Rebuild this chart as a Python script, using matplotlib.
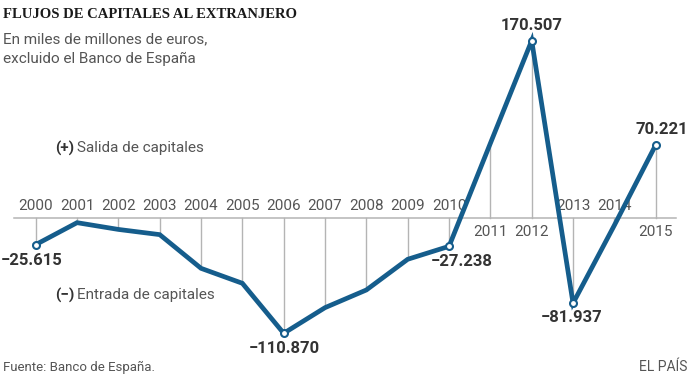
import matplotlib.pyplot as plt

years = list(range(2000, 2016))
values = [-25.615, -4.5, -11.0, -16.0, -48.4, -62.8, -110.870, -86.2,
          -69.2, -39.7, -27.238, 71.8, 170.507, -81.937, -7.0, 70.221]
labeled_years = [2000, 2006, 2010, 2012, 2013, 2015]
value_labels = ['\u221225.615', '\u2212110.870', '\u221227.238',
                '170.507', '\u221281.937', '70.221']

BLUE = '#155d8c'
GRID = '#b4b4b4'
TEXT = '#555555'
DARK = '#333333'


def main():
    fig = plt.figure(figsize=(6.91, 3.82), dpi=100)
    ax = fig.add_axes([0, 0, 1, 1])
    ax.set_xlim(1999.136, 2015.854)
    ax.set_ylim(-157.7, 209.6)
    ax.axis('off')

    # zero line and drop lines
    ax.plot([1999.47, 2015.5], [0, 0], color=GRID, lw=1.1, zorder=1)
    for yr, v in zip(years, values):
        ax.plot([yr, yr], [0, v], color=GRID, lw=1.0, zorder=1)
        if v < 0:
            ax.text(yr, 11.8, str(yr), ha='center', va='center',
                    fontsize=11, color=TEXT, family='Roboto', zorder=2)
        else:
            ax.text(yr, -13.5, str(yr), ha='center', va='center',
                    fontsize=11, color=TEXT, family='Roboto', zorder=2)

    ax.plot(years, values, color=BLUE, lw=3.4, solid_joinstyle='miter',
            zorder=3)

    mark_vals = [values[years.index(y)] for y in labeled_years]
    ax.plot(labeled_years, mark_vals, 'o', ms=5, mfc='white', mec=BLUE,
            mew=1.5, zorder=4)

    offsets = [(-4, -16), (1, -15.5), (13, -15.5), (0, 14.7), (-1, -14),
               (6, 15.3)]
    for yr, v, lab, off in zip(labeled_years, mark_vals, value_labels,
                               offsets):
        ax.annotate(lab, (yr, v), xytext=(off[0] * 0.72, off[1] * 0.72),
                    textcoords='offset points', ha='center', va='center',
                    fontsize=12, fontweight='bold', color=DARK,
                    family='Roboto', zorder=5)

    # sign annotations
    t = fig.text(55 / 691, 1 - 148 / 382, '(+)', ha='left', va='center',
                 fontsize=11, fontweight='bold', color=DARK, family='Roboto')
    ax.annotate('Salida de capitales', xy=(1, 0.5), xycoords=t,
                xytext=(2, 0), textcoords='offset points', ha='left',
                va='center', fontsize=11, color=TEXT, family='Roboto')
    t2 = fig.text(55 / 691, 1 - 295 / 382, '(\u2212)', ha='left',
                  va='center', fontsize=11, fontweight='bold', color=DARK,
                  family='Roboto')
    ax.annotate('Entrada de capitales', xy=(1, 0.5), xycoords=t2,
                xytext=(2, 0), textcoords='offset points', ha='left',
                va='center', fontsize=11, color=TEXT, family='Roboto')

    # titles
    fig.text(3 / 691, 1 - 15 / 382, 'FLUJOS DE CAPITALES AL EXTRANJERO',
             ha='left', va='center', fontsize=10.5, fontweight='bold',
             color='#1a1a1a', family='Liberation Serif')
    fig.text(3 / 691, 1 - 39 / 382, 'En miles de millones de euros,',
             ha='left', va='center', fontsize=11, color=TEXT,
             family='Roboto')
    fig.text(3 / 691, 1 - 59 / 382, 'excluido el Banco de Espa\u00f1a',
             ha='left', va='center', fontsize=11, color=TEXT,
             family='Roboto')

    fig.text(3 / 691, 1 - 367 / 382, 'Fuente: Banco de Espa\u00f1a.',
             ha='left', va='center', fontsize=9.5, color=TEXT,
             family='Roboto')
    fig.text(687 / 691, 1 - 367 / 382, 'EL PA\u00cdS', ha='right',
             va='center', fontsize=10, color=TEXT, family='Roboto')

    fig.savefig('out.png', dpi=100)


if __name__ == '__main__':
    main()
